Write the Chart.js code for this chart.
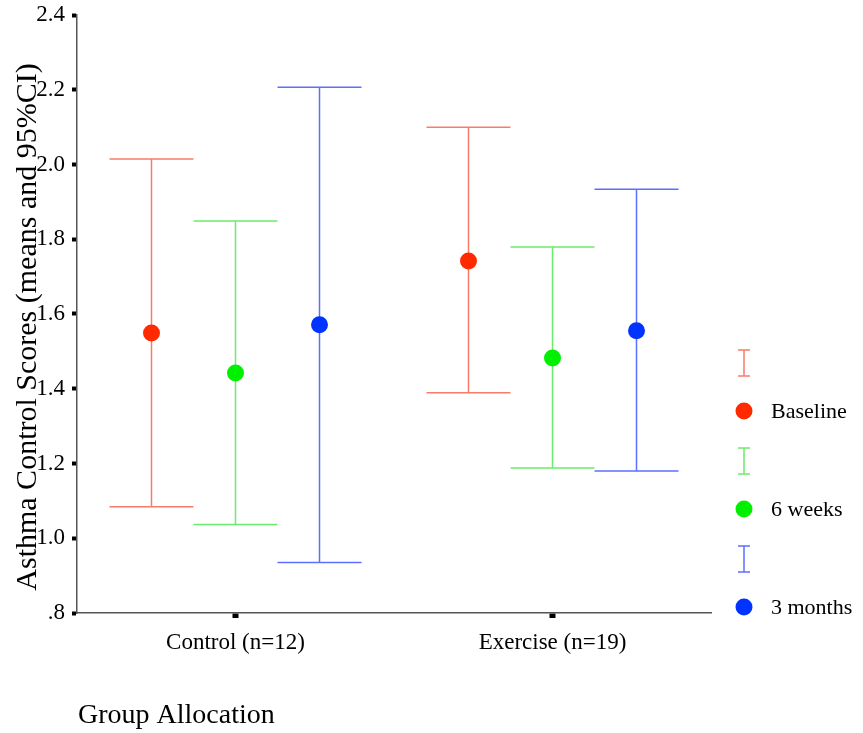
<!DOCTYPE html>
<html>
<head>
<meta charset="utf-8">
<title>Asthma Control Scores</title>
<script src="https://cdn.jsdelivr.net/npm/chart.js@4/dist/chart.umd.min.js"></script>
<style>
    body { margin: 0; background: #fff; }
    #wrap { width: 863px; height: 733px; position: relative; }
</style>
</head>
<body>
<div id="wrap"><canvas id="ciChart"></canvas></div>
<script>
// Groups on the x axis and the three time points
const groups = ['Control (n=12)', 'Exercise (n=19)'];
const seriesNames = ['Baseline', '6 weeks', '3 months'];

// Means and 95% CI bounds, one value per group
const baselineMean = [1.549, 1.742];
const baselineLow = [1.084, 1.389];
const baselineHigh = [2.015, 2.100];

const sixWeeksMean = [1.442, 1.482];
const sixWeeksLow = [1.037, 1.188];
const sixWeeksHigh = [1.849, 1.779];

const threeMonthsMean = [1.571, 1.555];
const threeMonthsLow = [0.935, 1.180];
const threeMonthsHigh = [2.207, 1.934];

const yTicks = [0.8, 1.0, 1.2, 1.4, 1.6, 1.8, 2.0, 2.2, 2.4];

const dotColors = ['#ff2a00', '#00f000', '#0033ff'];
const barColors = ['#f87c68', '#6cec6c', '#5c70ff'];

const FONT = "'Liberation Serif', 'Times New Roman', serif";
const SHIFT = 0.265;   // distance between time points inside a group
const CAP = SHIFT / 2; // half width of the CI caps

const means = [baselineMean, sixWeeksMean, threeMonthsMean];
const lows = [baselineLow, sixWeeksLow, threeMonthsLow];
const highs = [baselineHigh, sixWeeksHigh, threeMonthsHigh];

const datasets = seriesNames.map((name, s) => ({
    label: name,
    data: groups.map((g, i) => ({ x: i + 1 + (s - 1) * SHIFT, y: means[s][i] })),
    low: lows[s],
    high: highs[s],
    backgroundColor: dotColors[s],
    borderColor: dotColors[s],
    barColor: barColors[s],
    pointRadius: 8.5,
    pointHoverRadius: 8.5,
    borderWidth: 0,
    showLine: false
}));

// CI whiskers behind the dots
const errorBars = {
    id: 'errorBars',
    beforeDatasetsDraw(chart) {
        const ctx = chart.ctx;
        const xs = chart.scales.x, ys = chart.scales.y;
        ctx.save();
        ctx.lineWidth = 1.5;
        chart.data.datasets.forEach(ds => {
            ctx.strokeStyle = ds.barColor;
            ds.data.forEach((p, i) => {
                const x = xs.getPixelForValue(p.x);
                const x0 = xs.getPixelForValue(p.x - CAP);
                const x1 = xs.getPixelForValue(p.x + CAP);
                const yl = ys.getPixelForValue(ds.low[i]);
                const yh = ys.getPixelForValue(ds.high[i]);
                ctx.beginPath();
                ctx.moveTo(x, yl); ctx.lineTo(x, yh);
                ctx.moveTo(x0, yl); ctx.lineTo(x1, yl);
                ctx.moveTo(x0, yh); ctx.lineTo(x1, yh);
                ctx.stroke();
            });
        });
        ctx.restore();
    }
};

// Axis titles and the legend on the right
const decorations = {
    id: 'decorations',
    afterDraw(chart) {
        const ctx = chart.ctx;
        const area = chart.chartArea;
        ctx.save();
        ctx.fillStyle = '#000';

        ctx.font = '30px ' + FONT;
        ctx.textAlign = 'center';
        ctx.textBaseline = 'middle';
        ctx.save();
        ctx.translate(28, 327);
        ctx.rotate(-Math.PI / 2);
        ctx.fillText('Asthma Control Scores (means and 95%CI)', 0, 0);
        ctx.restore();

        ctx.font = '28px ' + FONT;
        ctx.textAlign = 'left';
        ctx.fillText('Group Allocation', area.left + 1, 716);

        const lx = area.right + 33;
        ctx.font = '22px ' + FONT;
        chart.data.datasets.forEach((ds, s) => {
            const top = 350 + s * 98;
            ctx.strokeStyle = ds.barColor;
            ctx.lineWidth = 1.5;
            ctx.beginPath();
            ctx.moveTo(lx, top); ctx.lineTo(lx, top + 26);
            ctx.moveTo(lx - 6, top); ctx.lineTo(lx + 6, top);
            ctx.moveTo(lx - 6, top + 26); ctx.lineTo(lx + 6, top + 26);
            ctx.stroke();

            const dy = top + 61;
            ctx.fillStyle = ds.backgroundColor;
            ctx.beginPath();
            ctx.arc(lx, dy, 8.5, 0, Math.PI * 2);
            ctx.fill();
            ctx.fillStyle = '#000';
            ctx.fillText(ds.label, lx + 27, dy + 1);
        });
        ctx.restore();
    }
};

new Chart(document.getElementById('ciChart'), {
    type: 'scatter',
    data: { datasets: datasets },
    options: {
        responsive: true,
        maintainAspectRatio: false,
        animation: false,
        layout: { padding: { top: 15, right: 152, left: 0, bottom: 0 } },
        plugins: {
            legend: { display: false },
            tooltip: { enabled: false }
        },
        scales: {
            x: {
                type: 'linear',
                min: 0.5,
                max: 2.5,
                afterBuildTicks: scale => { scale.ticks = groups.map((g, i) => ({ value: i + 1 })); },
                afterFit: scale => { scale.height = 120; },
                ticks: {
                    callback: v => groups[v - 1],
                    color: '#000',
                    font: { family: FONT, size: 23 },
                    padding: 11,
                    maxRotation: 0
                },
                grid: {
                    drawOnChartArea: false,
                    tickLength: 5,
                    tickWidth: 6,
                    tickColor: '#000'
                },
                border: { color: '#555', width: 1.5 }
            },
            y: {
                min: 0.8,
                max: 2.4,
                afterBuildTicks: scale => { scale.ticks = yTicks.map(v => ({ value: v })); },
                afterFit: scale => {
                    scale.width = 77;
                    scale.paddingTop = 0;
                    scale.paddingBottom = 0;
                },
                ticks: {
                    callback: v => v.toFixed(1).replace(/^0/, ''),
                    color: '#000',
                    font: { family: FONT, size: 23 },
                    padding: 7
                },
                grid: {
                    drawOnChartArea: false,
                    tickLength: 5,
                    tickWidth: 4,
                    tickColor: '#000'
                },
                border: { color: '#555', width: 1.5 }
            }
        }
    },
    plugins: [errorBars, decorations]
});
</script>
</body>
</html>
